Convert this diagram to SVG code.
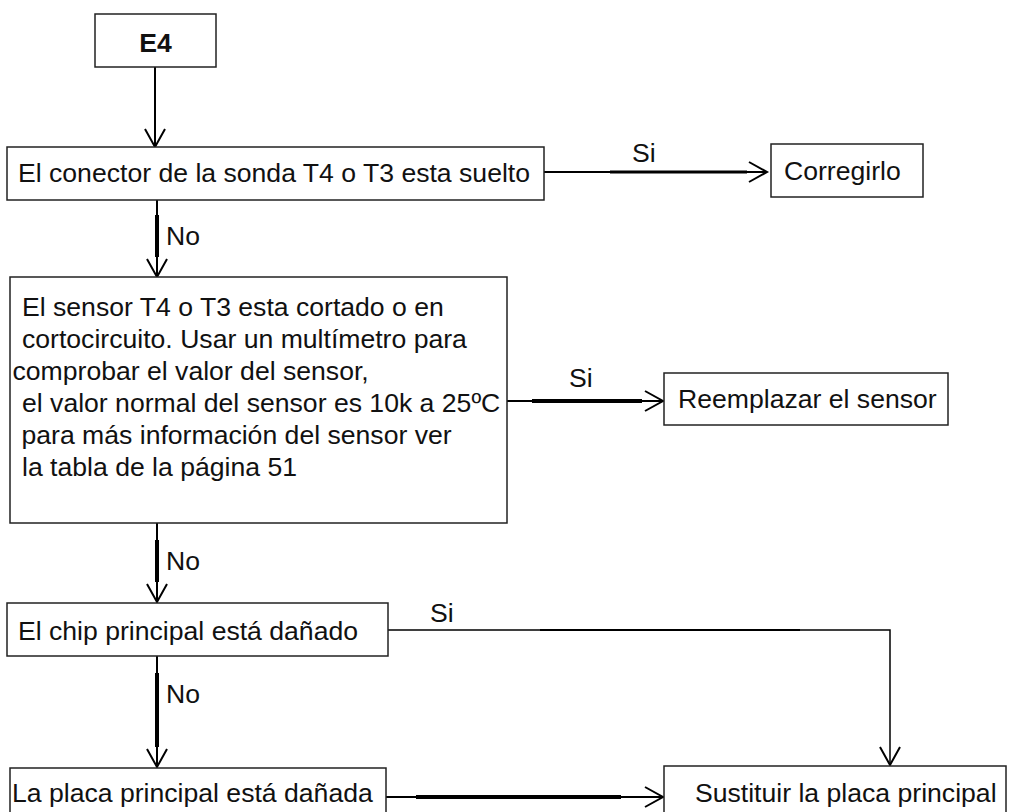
<svg xmlns="http://www.w3.org/2000/svg" width="1010" height="812" viewBox="0 0 1010 812">
<style>
.box{fill:#fff;stroke:#222;stroke-width:1.5}
.t{font-family:"Liberation Sans",Arial,sans-serif;font-size:26.6px;fill:#111}
.b{font-weight:bold}
.c{fill:none;stroke:#000;stroke-width:2}
.k{fill:none;stroke:#000;stroke-width:4}
.thin{fill:none;stroke:#000;stroke-width:1.5}
</style>
<defs>
<marker id="ah" markerWidth="22" markerHeight="24" refX="19" refY="11" orient="auto" markerUnits="userSpaceOnUse" overflow="visible">
<path d="M1,1 L19,11 L1,21" fill="none" stroke="#000" stroke-width="2"/>
</marker>
</defs>
<rect width="1010" height="812" fill="#fff"/>
<g id="connectors">
<line class="c" x1="155" y1="67" x2="155" y2="147" marker-end="url(#ah)"/>
<line class="c" x1="157" y1="200" x2="157" y2="277" marker-end="url(#ah)"/>
<line class="k" x1="157" y1="215" x2="157" y2="257"/>
<line class="c" x1="544" y1="172" x2="767" y2="172" marker-end="url(#ah)"/>
<line class="k" x1="610" y1="172" x2="747" y2="172" style="stroke-width:3"/>
<line class="c" x1="507" y1="401" x2="663" y2="401" marker-end="url(#ah)"/>
<line class="k" x1="532" y1="401" x2="642" y2="401"/>
<line class="c" x1="157" y1="523" x2="157" y2="602" marker-end="url(#ah)"/>
<line class="k" x1="157" y1="540" x2="157" y2="582"/>
<polyline class="thin" points="388,630 890,630 890,765" marker-end="url(#ah)"/>
<line class="c" x1="540" y1="630" x2="800" y2="630"/>
<line class="c" x1="157" y1="656" x2="157" y2="767" marker-end="url(#ah)"/>
<line class="k" x1="157" y1="673" x2="157" y2="747"/>
<line class="c" x1="386" y1="797" x2="663" y2="797" marker-end="url(#ah)"/>
<line class="k" x1="416" y1="797" x2="621" y2="797"/>
<text class="t" x="632" y="162">Si</text>
<text class="t" x="166" y="245">No</text>
<text class="t" x="569" y="387">Si</text>
<text class="t" x="166" y="570">No</text>
<text class="t" x="430" y="622">Si</text>
<text class="t" x="166" y="703">No</text>
</g>
<g id="n-e4">
<rect class="box" x="95" y="14" width="121" height="53"/>
<text class="t b" x="155.5" y="52" text-anchor="middle">E4</text>
</g>
<g id="n-conector">
<rect class="box" x="7" y="147" width="537" height="53"/>
<text class="t" x="18" y="182">El conector de la sonda T4 o T3 esta suelto</text>
</g>
<g id="n-corregirlo">
<rect class="box" x="771" y="144" width="152" height="53"/>
<text class="t" x="784" y="180">Corregirlo</text>
</g>
<g id="n-sensor">
<rect class="box" x="10" y="277" width="497" height="246"/>
<text class="t" x="22" y="316">El sensor T4 o T3 esta cortado o en</text>
<text class="t" x="22" y="348">cortocircuito. Usar un multímetro para</text>
<text class="t" x="12.5" y="380">comprobar el valor del sensor,</text>
<text class="t" x="22" y="412">el valor normal del sensor es 10k a 25ºC</text>
<text class="t" x="21.5" y="444">para más información del sensor ver</text>
<text class="t" x="22" y="476">la tabla de la página 51</text>
</g>
<g id="n-reemplazar">
<rect class="box" x="664" y="373" width="284" height="52"/>
<text class="t" x="678" y="408">Reemplazar el sensor</text>
</g>
<g id="n-chip">
<rect class="box" x="7" y="603" width="381" height="53"/>
<text class="t" x="18" y="640">El chip principal está dañado</text>
</g>
<g id="n-placa">
<rect class="box" x="10" y="768" width="376" height="50"/>
<text class="t" x="12" y="802">La placa principal está dañada</text>
</g>
<g id="n-sustituir">
<rect class="box" x="664" y="766" width="342" height="52"/>
<text class="t" x="695" y="802">Sustituir la placa principal</text>
</g>
</svg>
